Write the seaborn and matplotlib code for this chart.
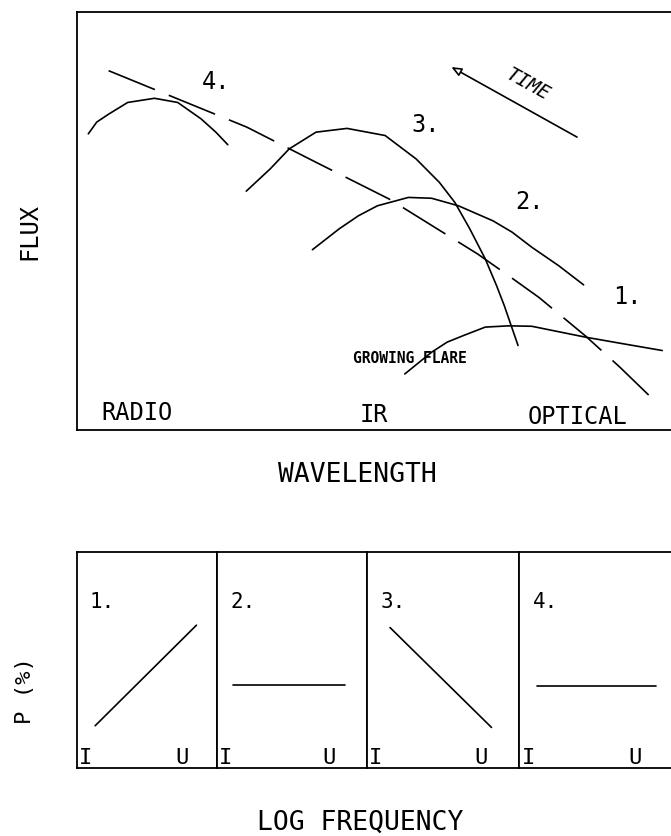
import pandas as pd
import matplotlib.pyplot as plt
import seaborn as sns

# spectra of the flare at four stages (log wavelength vs flux, arbitrary units)
dash_x = [0.53, 2.85, 4.01, 5.24, 6.72, 7.24, 7.75, 8.53, 9.11, 9.69]
dash_y = [8.59, 7.24, 6.40, 5.52, 4.21, 3.69, 3.17, 2.25, 1.50, 0.70]

stage4_x = [0.19, 0.33, 0.53, 0.85, 1.30, 1.69, 2.08, 2.33, 2.53]
stage4_y = [7.08, 7.36, 7.55, 7.83, 7.93, 7.83, 7.44, 7.12, 6.82]

stage3_x = [2.84, 3.24, 3.56, 4.01, 4.53, 5.17, 5.69, 6.08, 6.34, 6.59, 6.85, 7.04, 7.17, 7.40]
stage3_y = [5.71, 6.24, 6.72, 7.12, 7.21, 7.04, 6.48, 5.92, 5.44, 4.81, 4.09, 3.45, 2.97, 2.02]

stage2_x = [3.95, 4.40, 4.72, 5.04, 5.56, 5.95, 6.40, 6.98, 7.30, 7.63, 8.08, 8.50]
stage2_y = [4.31, 4.81, 5.12, 5.36, 5.56, 5.54, 5.36, 5.00, 4.73, 4.37, 3.93, 3.47]

stage1_x = [5.50, 5.95, 6.21, 6.47, 6.85, 7.24, 7.63, 8.01, 8.53, 9.17, 9.82]
stage1_y = [1.34, 1.86, 2.10, 2.25, 2.46, 2.49, 2.48, 2.37, 2.22, 2.06, 1.90]

# polarisation vs log frequency, one panel per stage
pol_x = [[0.13, 0.855], [0.11, 0.854], [0.153, 0.818], [0.115, 0.891]]
pol_y = [[1.96, 6.62], [3.87, 3.87], [6.51, 1.88], [3.81, 3.81]]
pol_names = ["1.", "2.", "3.", "4."]

sns.set_style("white")
plt.rcParams['font.family'] = ['DejaVu Sans Mono', 'DejaVu Sans']
plt.rcParams['text.color'] = 'black'

fig = plt.figure(figsize=(6.71, 8.37), dpi=100)
W, H = 671.0, 837.0

ax = fig.add_axes([77 / W, (H - 431) / H, 596 / W, 418.3 / H])
for xs, ys in [(stage4_x, stage4_y), (stage3_x, stage3_y),
               (stage2_x, stage2_y), (stage1_x, stage1_y)]:
    sns.lineplot(x=xs, y=ys, ax=ax, color="black", lw=1.2, sort=False, estimator=None)
sns.lineplot(x=dash_x, y=dash_y, ax=ax, color="black", lw=1.2, sort=False,
             estimator=None, linestyle=(0, (30, 9)))

ax.set_xlim(0, 10)
ax.set_ylim(0, 10)
ax.set_xticks([])
ax.set_yticks([])
for s in ax.spines.values():
    s.set_color("black")
    s.set_linewidth(1.3)
ax.spines["right"].set_visible(False)

# stage numbers and band names
for lab, (x, y) in zip(["4.", "3.", "2.", "1."],
                       [(2.33, 8.35), (5.85, 7.32), (7.59, 5.48), (9.24, 3.21)]):
    ax.text(x, y, lab, fontsize=17, ha="center", va="center")
ax.text(5.59, 1.74, "GROWING FLARE", fontsize=10.5, fontweight="bold",
        ha="center", va="center")
ax.text(1.01, 0.43, "RADIO", fontsize=17, ha="center", va="center")
ax.text(4.98, 0.38, "IR", fontsize=17, ha="center", va="center")
ax.text(8.40, 0.34, "OPTICAL", fontsize=17, ha="center", va="center")

# time arrow
ax.annotate("", xy=(6.24, 8.71), xytext=(8.43, 6.97),
            arrowprops=dict(arrowstyle="-|>,head_length=0.6,head_width=0.25",
                            fc="white", ec="black", lw=1.2))
ax.text(7.56, 8.27, "TIME", fontsize=14, style="italic", rotation=-29,
        ha="center", va="center")

fig.text(29 / W, 1 - 231 / H, "FLUX", rotation=90, fontsize=17,
         ha="center", va="center")
fig.text(357 / W, 1 - 475 / H, "WAVELENGTH", fontsize=19, ha="center", va="center")

# lower row of polarisation panels
edges = [77, 216.7, 366.7, 519.3, 673]
for i in range(4):
    pax = fig.add_axes([edges[i] / W, (H - 769) / H,
                        (edges[i + 1] - edges[i]) / W, 215.7 / H])
    sns.lineplot(x=pol_x[i], y=pol_y[i], ax=pax, color="black", lw=1.2,
                 sort=False, estimator=None)
    pax.set_xlim(0, 1)
    pax.set_ylim(0, 10)
    pax.set_xticks([])
    pax.set_yticks([])
    for s in pax.spines.values():
        s.set_color("black")
        s.set_linewidth(1.3)
    if i == 3:
        pax.spines["right"].set_visible(False)
    pax.text(0.09, 0.775, pol_names[i], transform=pax.transAxes, fontsize=15,
             ha="left", va="center")
    pax.text(0.06, 0.005, "I", transform=pax.transAxes, fontsize=16,
             ha="center", va="bottom")
    pax.text(0.75, 0.005, "U", transform=pax.transAxes, fontsize=16,
             ha="center", va="bottom")

fig.text(25 / W, 1 - 691 / H, "P (%)", rotation=90, fontsize=16,
         ha="center", va="center")
fig.text(360 / W, 1 - 823 / H, "LOG FREQUENCY", fontsize=19, ha="center", va="center")

plt.savefig("out.png", dpi=100)
